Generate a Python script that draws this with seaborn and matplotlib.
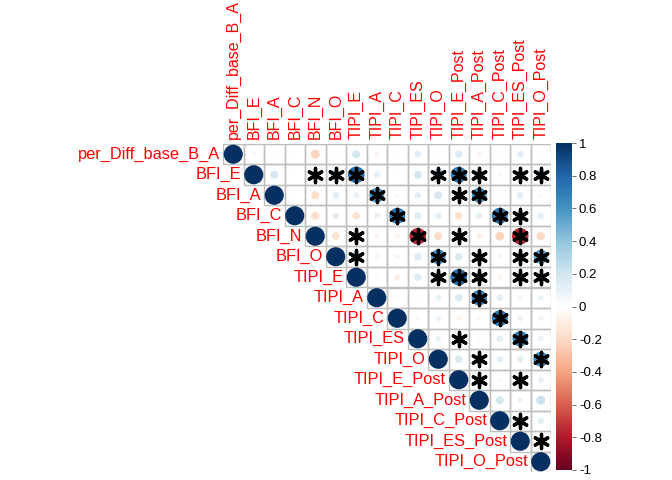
import numpy as np
import pandas as pd
import seaborn as sns
import matplotlib
matplotlib.use("Agg")
import matplotlib.pyplot as plt
from matplotlib.colors import LinearSegmentedColormap, Normalize
from matplotlib.patches import Rectangle
from matplotlib.cm import ScalarMappable

labels = ["per_Diff_base_B_A", "BFI_E", "BFI_A", "BFI_C", "BFI_N", "BFI_O",
          "TIPI_E", "TIPI_A", "TIPI_C", "TIPI_ES", "TIPI_O",
          "TIPI_E_Post", "TIPI_A_Post", "TIPI_C_Post", "TIPI_ES_Post", "TIPI_O_Post"]

# upper triangle, each row starts at the diagonal
upper = [
    [1, 0.05, 0.01, 0.02, -0.22, 0.02, 0.18, -0.07, 0.03, 0.13, 0.03, 0.15, -0.07, 0.01, 0.12, 0.02],
    [1, 0.18, 0.01, -0.22, 0.30, 0.75, 0.12, 0.02, 0.18, 0.35, 0.70, 0.30, 0.05, 0.25, 0.30],
    [1, 0.03, -0.18, 0.12, 0.10, 0.60, -0.05, 0.12, 0.18, 0.25, 0.60, 0.03, 0.12, 0.05],
    [1, -0.18, 0.12, -0.16, 0.10, 0.70, 0.14, 0.12, -0.16, 0.12, 0.70, 0.30, 0.12],
    [1, -0.16, -0.25, -0.07, -0.07, -0.75, -0.18, -0.25, -0.10, -0.22, -0.75, -0.20],
    [1, 0.30, 0.07, 0.07, 0.15, 0.60, 0.16, 0.25, 0.07, 0.25, 0.55],
    [1, 0.04, -0.10, 0.15, 0.30, 0.75, 0.30, -0.07, 0.25, 0.25],
    [1, -0.04, 0.03, 0.10, 0.16, 0.65, 0.12, 0.07, 0.09],
    [1, 0.04, 0.09, -0.07, 0.04, 0.70, 0.10, 0.07],
    [1, 0.09, 0.22, 0.04, 0.12, 0.65, 0.09],
    [1, 0.16, 0.25, 0.12, 0.12, 0.60],
    [1, 0.25, -0.04, 0.25, 0.10],
    [1, 0.18, 0.09, 0.22],
    [1, 0.25, 0.12],
    [1, 0.20],
    [1],
]

# significant cells (p < 0.05): row -> columns
sig_cols = {
    1: [4, 5, 6, 10, 11, 12, 14, 15],
    2: [7, 11, 12],
    3: [8, 13, 14],
    4: [6, 9, 11, 14],
    5: [6, 10, 12, 14, 15],
    6: [10, 11, 12, 14, 15],
    7: [12],
    8: [13],
    9: [11, 14],
    10: [12, 15],
    11: [12, 14],
    13: [14],
    14: [15],
}

n = len(labels)
rows = []
for i, vals in enumerate(upper):
    for k, r in enumerate(vals):
        j = i + k
        rows.append({"row": i, "col": j, "r": r, "absr": abs(r),
                     "sig": j in sig_cols.get(i, [])})
df = pd.DataFrame(rows)

cmap = LinearSegmentedColormap.from_list(
    "rdbu", ["#67001F", "#B2182B", "#D6604D", "#F4A582", "#FDDBC7", "#FFFFFF",
             "#D1E5F0", "#92C5DE", "#4393C3", "#2166AC", "#053061"])

plt.rcParams["font.family"] = ["Liberation Sans", "DejaVu Sans"]
fig = plt.figure(figsize=(6.72, 4.8), dpi=100)
ax = fig.add_axes([223 / 672, 8 / 480, 328 / 672, 328 / 480])

# cell borders
for _, c in df.iterrows():
    ax.add_patch(Rectangle((c["col"] - 0.5, c["row"] - 0.5), 1, 1,
                           fill=False, ec="#BEBEBE", lw=1, zorder=1))

sns.scatterplot(data=df, x="col", y="row", hue="r", palette=cmap, hue_norm=(-1, 1),
                size="absr", sizes=(0, 190), size_norm=(0, 1), linewidth=0,
                legend=False, ax=ax, zorder=2)
sns.scatterplot(data=df[df["sig"]], x="col", y="row", marker=(6, 2, 0), s=105,
                color="black", linewidth=2.4, legend=False, ax=ax, zorder=3)

ax.set_xlim(-0.5, n - 0.5)
ax.set_ylim(n - 0.5, -0.5)
ax.set_aspect("equal")
ax.axis("off")

for i, lab in enumerate(labels):
    ax.text(i - 0.62, i, lab, ha="right", va="center", color="red", fontsize=11.8)
    ax.text(i, -0.75, lab, ha="center", va="bottom", rotation=90, color="red",
            fontsize=11.5)

ticks = np.round(np.arange(-1, 1.01, 0.2), 1)
cax = fig.add_axes([556 / 672, 10 / 480, 16 / 672, 327 / 480])
cb = fig.colorbar(ScalarMappable(norm=Normalize(-1, 1), cmap=cmap), cax=cax, ticks=ticks)
cb.ax.set_yticklabels(["0" if abs(t) < 1e-9 else f"{t:g}" for t in ticks])
cb.ax.tick_params(labelsize=9.5, length=3, width=0.6, color="#555555", pad=2)
cb.outline.set_visible(False)

plt.savefig("out.png", dpi=100)
plt.close()
